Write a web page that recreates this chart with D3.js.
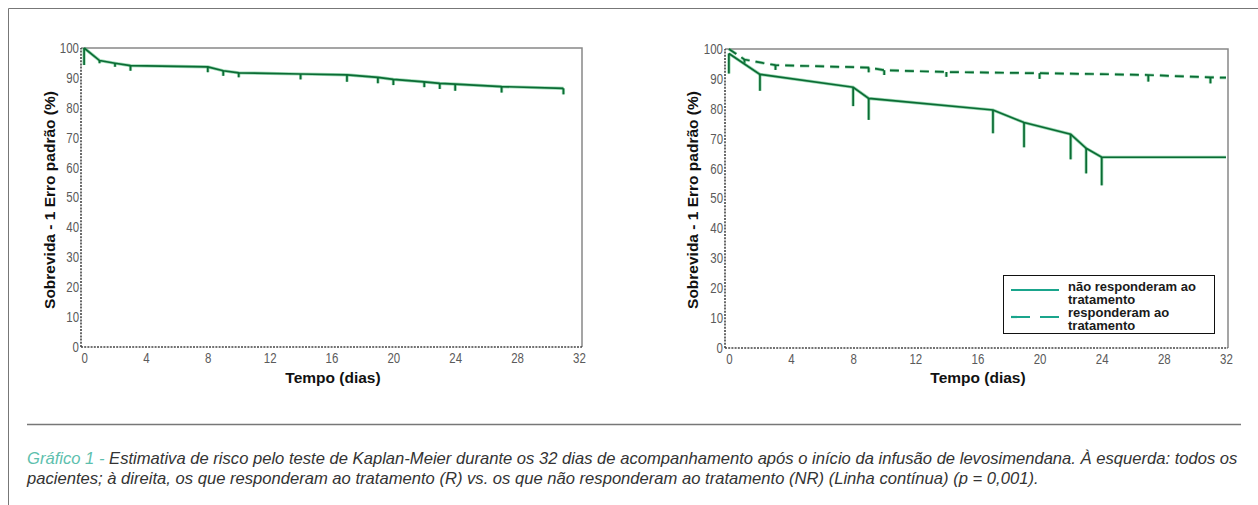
<!DOCTYPE html>
<html>
<head>
<meta charset="utf-8">
<script src="https://cdn.jsdelivr.net/npm/d3@7"></script>
<style>
  html, body { margin: 0; padding: 0; background: #ffffff; }
  svg { display: block; }
</style>
</head>
<body>
<svg id="chart" width="1258" height="505"></svg>
<script>
// ---------- data ----------
const xTicks = [0, 4, 8, 12, 16, 20, 24, 28, 32];
const yTicks = [0, 10, 20, 30, 40, 50, 60, 70, 80, 90, 100];

// Left panel: all patients (survival %, survival - 1 SE)
const allDays  = [0, 1, 2, 3, 8, 9, 10, 14, 17, 19, 20, 22, 23, 24, 27, 31];
const allSurv  = [100, 95.8, 94.9, 94.1, 93.7, 92.4, 91.7, 91.3, 91.0, 90.2, 89.5, 88.7, 88.2, 87.9, 87.1, 86.5];
const allLower = [94.3, 94.9, 93.7, 92.4, 91.9, 90.7, 90.2, 89.5, 88.7, 88.2, 87.6, 86.9, 86.3, 85.7, 85.1, 84.5];

// Right panel: non-responders (solid)
const nrDays  = [0, 2, 8, 9, 17, 19, 22, 23, 24, 32];
const nrSurv  = [98.5, 91.5, 87.2, 83.5, 79.6, 75.4, 71.5, 66.8, 63.8, 63.8];
const nrLower = [91.8, 86.0, 80.9, 76.3, 71.8, 67.1, 63.1, 58.4, 54.4, null];

// Right panel: responders (dashed)
const rDays  = [0, 1, 2, 3, 9, 10, 14, 20, 24, 27, 31, 32];
const rSurv  = [100, 96.5, 95.5, 94.6, 93.8, 92.9, 92.3, 91.9, 91.6, 91.3, 90.5, 90.4];
const rLower = [null, 95.2, null, 93.0, 92.2, 91.3, 90.7, 90.0, null, 89.1, 88.5, null];

const legendLabels = [["não responderam ao", "tratamento"], ["responderam ao", "tratamento"]];
const yTitle = "Sobrevida - 1 Erro padrão (%)";
const xTitle = "Tempo (dias)";
const captionLead = "Gráfico 1 - ";
const captionLine1 = "Estimativa de risco pelo teste de Kaplan-Meier durante os 32 dias de acompanhamento após o início da infusão de levosimendana. À esquerda: todos os";
const captionLine2 = "pacientes; à direita,  os que responderam ao tratamento (R) vs. os que não responderam ao tratamento (NR) (Linha contínua) (p = 0,001).";

// ---------- drawing ----------
const svg = d3.select("#chart");
const SANS = "'Liberation Sans', Arial, sans-serif";
const CORE = "#0b6b34", GLOW = "#46b872", LEG = "#1aa58c";
const NARROW_SCALE = 0.82;

// outer frame (left + top)
svg.append("path").attr("d", "M8.5,505 V8.5 H1258")
  .attr("fill", "none").attr("stroke", "#777").attr("stroke-width", 1);

function series(g, x, y, days, surv, lower, dashed) {
  const pts = days.map((d, i) => ({ d, s: surv[i], l: lower[i] }));
  const line = d3.line().x(p => x(p.d)).y(p => y(p.s));
  const bars = pts.filter(p => p.l !== null);
  [[GLOW, 3.2, 0.55], [CORE, 1.7, 1]].forEach(([c, w, o]) => {
    g.append("path").datum(pts).attr("d", line)
      .attr("fill", "none").attr("stroke", c).attr("stroke-width", w).attr("opacity", o)
      .attr("stroke-dasharray", dashed ? "9,6" : null);
    g.selectAll(null).data(bars).enter().append("line")
      .attr("x1", p => x(p.d)).attr("x2", p => x(p.d))
      .attr("y1", p => y(p.s)).attr("y2", p => y(p.l))
      .attr("stroke", c).attr("stroke-width", w).attr("opacity", o);
  });
}

function panel(opt) {
  const g = svg.append("g");
  const x = d3.scaleLinear().domain(opt.xDom).range([opt.left, opt.right]);
  const y = d3.scaleLinear().domain([0, 100]).range([opt.bottom, opt.top]);

  g.append("path")
    .attr("d", `M${opt.left},${opt.top} H${opt.right} V${opt.bottom}`)
    .attr("fill", "none").attr("stroke", "#888").attr("stroke-width", 1.5);

  const ax = g.append("g").attr("transform", `translate(0,${opt.bottom})`)
    .call(d3.axisBottom(x).tickValues(xTicks).tickSize(0).tickPadding(6));
  const ay = g.append("g").attr("transform", `translate(${opt.left},0)`)
    .call(d3.axisLeft(y).tickValues(yTicks).tickSize(0).tickPadding(2));
  [ax, ay].forEach(a => {
    a.select(".domain").attr("stroke", "#444").attr("stroke-width", 1.6).attr("stroke-dasharray", "2,1.2");
    a.selectAll("text").attr("font-family", SANS).attr("font-size", 14).attr("fill", "#5a5a5a")
      .attr("transform", `scale(${NARROW_SCALE},1)`);
  });
  ay.selectAll("text").attr("x", -2 / NARROW_SCALE);
  ax.select(".domain").attr("d", `M${opt.left},0H${opt.right}`);
  ay.select(".domain").attr("d", `M0,${opt.bottom}V${opt.top}`);

  g.append("text").attr("transform", `translate(${opt.yTitleX},200) rotate(-90)`)
    .attr("text-anchor", "middle").attr("dominant-baseline", "central")
    .attr("font-family", SANS).attr("font-weight", "bold").attr("font-size", 15.5).attr("fill", "#111")
    .text(yTitle);
  g.append("text").attr("x", opt.xTitleX).attr("y", 383)
    .attr("text-anchor", "middle")
    .attr("font-family", SANS).attr("font-weight", "bold").attr("font-size", 15.5).attr("fill", "#111")
    .text(xTitle);

  opt.series.forEach(s => series(g, x, y, s.days, s.surv, s.lower, s.dashed));
  return g;
}

panel({
  xDom: [-0.2, 32.2], left: 81, right: 582, top: 48, bottom: 347,
  yTitleX: 49, xTitleX: 333,
  series: [{ days: allDays, surv: allSurv, lower: allLower, dashed: false }]
});
panel({
  xDom: [-0.25, 32.13], left: 725, right: 1228, top: 49, bottom: 348,
  yTitleX: 692, xTitleX: 978,
  series: [
    { days: rDays, surv: rSurv, lower: rLower, dashed: true },
    { days: nrDays, surv: nrSurv, lower: nrLower, dashed: false }
  ]
});

// legend
const lg = svg.append("g");
lg.append("rect").attr("x", 1003.5).attr("y", 275.5).attr("width", 211).attr("height", 58)
  .attr("fill", "#fff").attr("stroke", "#111").attr("stroke-width", 1);
lg.append("line").attr("x1", 1011).attr("x2", 1059).attr("y1", 290).attr("y2", 290)
  .attr("stroke", LEG).attr("stroke-width", 2.2);
lg.append("line").attr("x1", 1011).attr("x2", 1059).attr("y1", 317).attr("y2", 317)
  .attr("stroke", LEG).attr("stroke-width", 2.2).attr("stroke-dasharray", "19,10");
legendLabels.forEach((lines, i) => {
  lines.forEach((t, j) => {
    lg.append("text").attr("x", 1068).attr("y", 290.5 + i * 26.5 + j * 13.3)
      .attr("font-family", SANS).attr("font-weight", "bold").attr("font-size", 13).attr("fill", "#1a1a1a")
      .text(t);
  });
});

// separator + caption
svg.append("line").attr("x1", 27).attr("x2", 1241).attr("y1", 424.5).attr("y2", 424.5)
  .attr("stroke", "#777").attr("stroke-width", 1.5);

const capFs = 16;
const cap1 = svg.append("text").attr("x", 0).attr("y", 0)
  .attr("font-family", SANS).attr("font-style", "italic").attr("font-size", capFs).attr("fill", "#333");
cap1.append("tspan").attr("fill", "#5dbfae").text(captionLead);
cap1.append("tspan").text(captionLine1);
const cap2 = svg.append("text").attr("x", 0).attr("y", 0)
  .attr("font-family", SANS).attr("font-style", "italic").attr("font-size", capFs).attr("fill", "#333")
  .text(captionLine2);
// condense the caption horizontally to the reference line width (narrow face)
const sx = 1211 / cap1.node().getComputedTextLength();
cap1.attr("transform", `translate(27,464) scale(${sx},1)`);
cap2.attr("transform", `translate(27,484) scale(${sx},1)`);
</script>
</body>
</html>
